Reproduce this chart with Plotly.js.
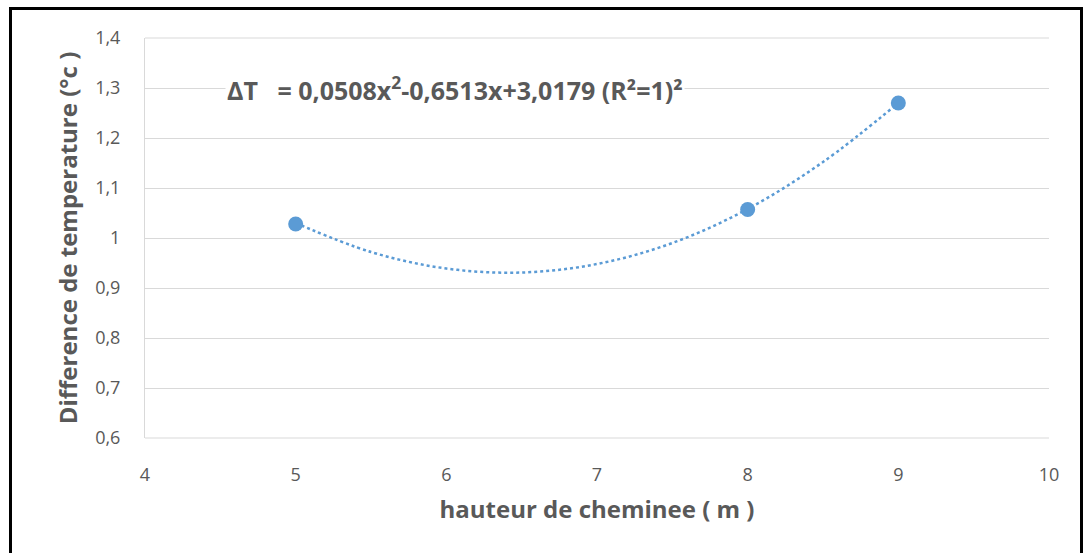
<!DOCTYPE html>
<html><head><meta charset="utf-8">
<script src="https://cdn.plot.ly/plotly-3.0.1.min.js"></script>
<style>
html,body{margin:0;padding:0;background:#fff;}
#chart{width:1083px;height:553px;}
#frame{position:absolute;left:9px;top:7px;width:1068px;height:560px;border:3px solid #000;pointer-events:none;}
</style></head>
<body>
<div id="chart"></div>
<div id="frame"></div>
<script>
// Measured points
var hauteur = [5, 8, 9];
var deltaT = [1.028, 1.057, 1.27];
// Trendline
var trendX = [5, 5.5, 6, 6.5, 7, 7.5, 8, 8.5, 9];
var trendY = [1.03, 0.972, 0.939, 0.931, 0.948, 0.99, 1.058, 1.152, 1.27];
var equationText = "ΔT   = 0,0508x<sup>2</sup>-0,6513x+3,0179 (R²=1)²";
var xTitle = "hauteur de cheminee ( m )";
var yTitle = "Difference de temperature (°c )";

var blue = "#5b9bd5";
var grey = "#595959";
var font = "'Open Sans', 'Noto Sans', sans-serif";

var traces = [
  {x: trendX, y: trendY, mode: "lines", line: {color: blue, width: 2.5, dash: "dot", shape: "spline"}, hoverinfo: "skip", showlegend: false},
  {x: hauteur, y: deltaT, mode: "markers", marker: {color: blue, size: 15}, showlegend: false}
];

var layout = {
  width: 1083, height: 553,
  separators: ", ",
  paper_bgcolor: "#fff", plot_bgcolor: "#fff",
  margin: {l: 145, r: 34, t: 38, b: 115},
  font: {family: font, color: grey, size: 18},
  xaxis: {
    range: [4, 10], dtick: 1, tick0: 4,
    showgrid: false, zeroline: false,
    showline: false, ticks: "outside", ticklen: 20, tickcolor: "rgba(0,0,0,0)",
    tickfont: {size: 18, color: grey},
    title: {text: "<b>" + xTitle + "</b>", font: {size: 24, color: grey}, standoff: 16}
  },
  yaxis: {
    range: [0.6, 1.4], dtick: 0.1, tick0: 0.6,
    showgrid: true, gridcolor: "#d9d9d9", gridwidth: 1,
    zeroline: false, showline: true, linecolor: "#d9d9d9", linewidth: 1,
    ticks: "outside", ticklen: 20, tickcolor: "rgba(0,0,0,0)",
    tickfont: {size: 18, color: grey},
    title: {text: "<b>" + yTitle + "</b>", font: {size: 24, color: grey}, standoff: 10}
  },
  shapes: [
    {type: "line", xref: "paper", yref: "paper", x0: 0, x1: 1, y0: 0, y1: 0, line: {color: "#d9d9d9", width: 1}},
    {type: "line", xref: "paper", yref: "paper", x0: 0, x1: 1, y0: 1, y1: 1, line: {color: "#d9d9d9", width: 1}}
  ],
  annotations: [
    {x: 4.53, y: 1.3, xref: "x", yref: "y", xanchor: "left", yanchor: "middle", showarrow: false,
     text: "<b>" + equationText + "</b>", font: {size: 25, color: grey, family: font}, bgcolor: "#fff"}
  ]
};

Plotly.newPlot("chart", traces, layout, {displayModeBar: false, staticPlot: true});
</script>
</body></html>
